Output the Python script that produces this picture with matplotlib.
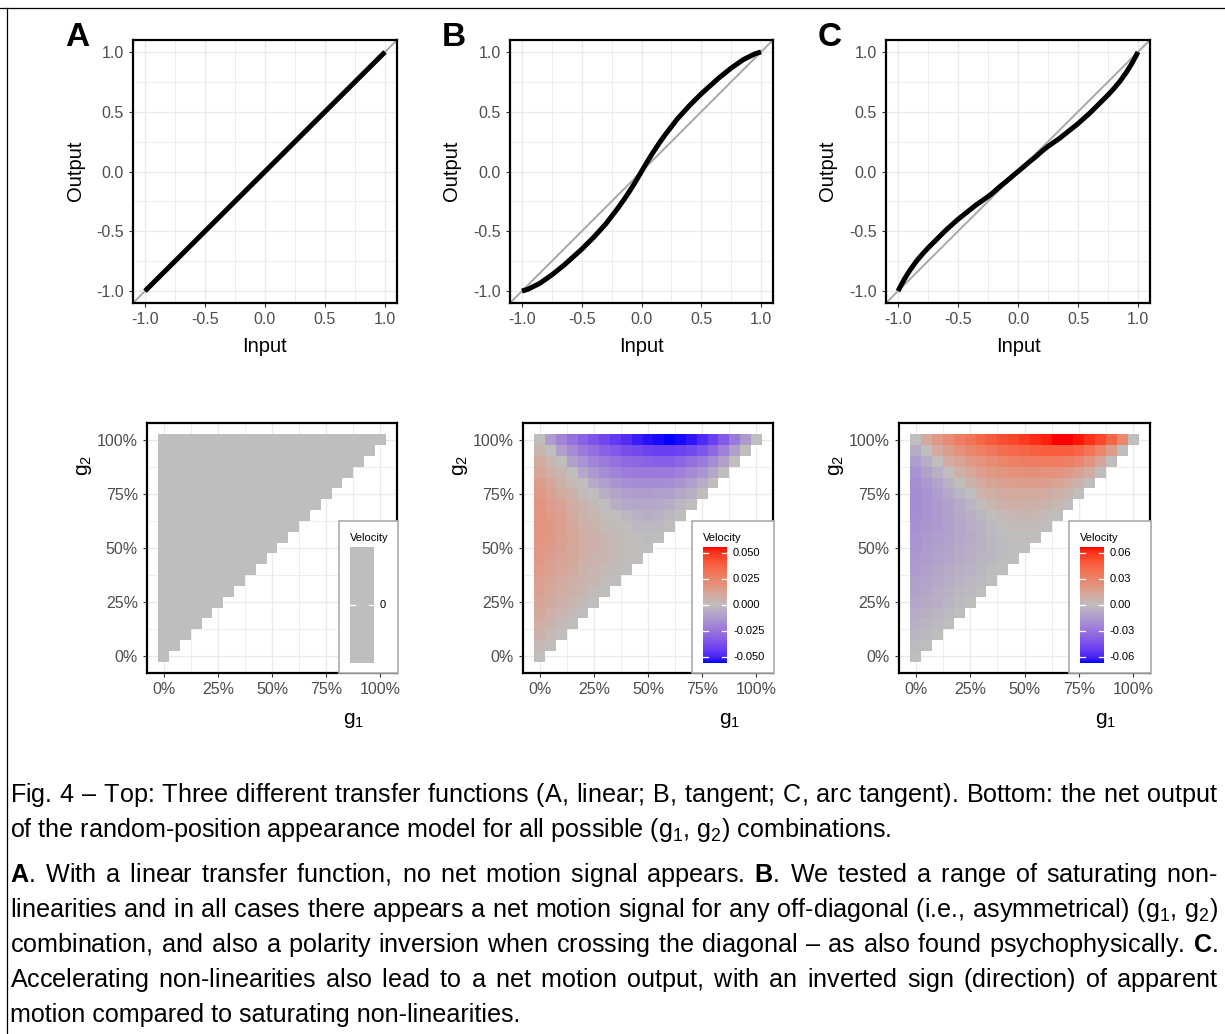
import numpy as np
import matplotlib
matplotlib.use("Agg")
import matplotlib.pyplot as plt
from matplotlib import font_manager
from matplotlib.colors import ListedColormap
from matplotlib.lines import Line2D
from matplotlib.patches import Rectangle

# ---- data ----
transfer_input = [-1.0, -0.95, -0.9, -0.85, -0.8, -0.75, -0.7, -0.65, -0.6, -0.55, -0.5,
                  -0.45, -0.4, -0.35, -0.3, -0.25, -0.2, -0.15, -0.1, -0.05, 0.0,
                  0.05, 0.1, 0.15, 0.2, 0.25, 0.3, 0.35, 0.4, 0.45, 0.5,
                  0.55, 0.6, 0.65, 0.7, 0.75, 0.8, 0.85, 0.9, 0.95, 1.0]
output_linear = [-1.0, -0.95, -0.9, -0.85, -0.8, -0.75, -0.7, -0.65, -0.6, -0.55, -0.5,
                 -0.45, -0.4, -0.35, -0.3, -0.25, -0.2, -0.15, -0.1, -0.05, 0.0,
                 0.05, 0.1, 0.15, 0.2, 0.25, 0.3, 0.35, 0.4, 0.45, 0.5,
                 0.55, 0.6, 0.65, 0.7, 0.75, 0.8, 0.85, 0.9, 0.95, 1.0]
output_tangent = [-1.0, -0.985, -0.96, -0.935, -0.90, -0.865, -0.825, -0.785, -0.74, -0.695, -0.65,
                  -0.60, -0.55, -0.495, -0.44, -0.375, -0.31, -0.24, -0.165, -0.085, 0.0,
                  0.085, 0.165, 0.24, 0.31, 0.375, 0.44, 0.495, 0.55, 0.60, 0.65,
                  0.695, 0.74, 0.785, 0.825, 0.865, 0.90, 0.935, 0.96, 0.985, 1.0]
output_arctan = [-1.0, -0.905, -0.825, -0.755, -0.695, -0.64, -0.59, -0.54, -0.49, -0.445, -0.40,
                 -0.36, -0.32, -0.28, -0.245, -0.21, -0.17, -0.125, -0.085, -0.042, 0.0,
                 0.042, 0.085, 0.125, 0.17, 0.21, 0.245, 0.28, 0.32, 0.36, 0.40,
                 0.445, 0.49, 0.54, 0.59, 0.64, 0.695, 0.755, 0.825, 0.905, 1.0]

g_levels = [0.00, 0.05, 0.10, 0.15, 0.20, 0.25, 0.30, 0.35, 0.40, 0.45, 0.50,
            0.55, 0.60, 0.65, 0.70, 0.75, 0.80, 0.85, 0.90, 0.95, 1.00]

# row j -> g2 = g_levels[j], entries for g1 = g_levels[0..j]
velocity_linear = [[0.0] * (j + 1) for j in range(len(g_levels))]

velocity_tangent = [
    [0.0],
    [0.003, 0.0],
    [0.006, 0.003, 0.0],
    [0.008, 0.005, 0.002, 0.0],
    [0.010, 0.007, 0.004, 0.002, 0.0],
    [0.012, 0.009, 0.006, 0.004, 0.002, 0.0],
    [0.013, 0.010, 0.008, 0.006, 0.004, 0.001, 0.0],
    [0.014, 0.012, 0.009, 0.007, 0.005, 0.004, 0.001, 0.0],
    [0.016, 0.013, 0.011, 0.009, 0.006, 0.004, 0.003, 0.001, 0.0],
    [0.017, 0.014, 0.012, 0.010, 0.007, 0.005, 0.004, 0.002, 0.001, 0.0],
    [0.018, 0.016, 0.013, 0.010, 0.008, 0.006, 0.004, 0.002, 0.001, 0.0, 0.0],
    [0.019, 0.017, 0.013, 0.011, 0.008, 0.006, 0.004, 0.002, 0.001, 0.0, -0.001, 0.0],
    [0.019, 0.017, 0.014, 0.010, 0.007, 0.005, 0.003, 0.001, 0.0, -0.002, -0.002, -0.002, 0.0],
    [0.019, 0.016, 0.013, 0.009, 0.006, 0.004, 0.001, 0.0, -0.003, -0.004, -0.005, -0.004, -0.002, 0.0],
    [0.019, 0.015, 0.012, 0.008, 0.005, 0.002, 0.0, -0.005, -0.007, -0.008, -0.008, -0.007, -0.006,
     -0.003, 0.0],
    [0.017, 0.013, 0.009, 0.006, 0.002, 0.0, -0.006, -0.009, -0.011, -0.012, -0.012, -0.011, -0.010,
     -0.008, -0.005, 0.0],
    [0.015, 0.011, 0.006, 0.003, 0.0, -0.007, -0.011, -0.014, -0.016, -0.017, -0.017, -0.017, -0.016,
     -0.014, -0.011, -0.006, 0.0],
    [0.012, 0.007, 0.004, 0.0, -0.008, -0.013, -0.017, -0.020, -0.022, -0.023, -0.023, -0.023, -0.023,
     -0.021, -0.018, -0.014, -0.008, 0.0],
    [0.009, 0.004, 0.0, -0.010, -0.015, -0.020, -0.023, -0.026, -0.029, -0.030, -0.031, -0.032, -0.032,
     -0.030, -0.027, -0.023, -0.017, -0.010, 0.0],
    [0.004, 0.0, -0.011, -0.018, -0.023, -0.027, -0.031, -0.034, -0.037, -0.039, -0.041, -0.042, -0.042,
     -0.041, -0.039, -0.035, -0.029, -0.021, -0.011, 0.0],
    [0.0, -0.012, -0.020, -0.026, -0.031, -0.036, -0.040, -0.044, -0.047, -0.051, -0.053, -0.054, -0.055,
     -0.054, -0.052, -0.048, -0.042, -0.034, -0.024, -0.013, 0.0],
]

velocity_arctan = [
    [0.0],
    [-0.002, 0.0],
    [-0.004, -0.002, 0.0],
    [-0.006, -0.004, -0.002, 0.0],
    [-0.008, -0.006, -0.004, -0.002, 0.0],
    [-0.010, -0.008, -0.006, -0.004, -0.002, 0.0],
    [-0.012, -0.010, -0.007, -0.005, -0.003, -0.002, 0.0],
    [-0.013, -0.011, -0.009, -0.007, -0.005, -0.003, -0.002, 0.0],
    [-0.015, -0.013, -0.010, -0.008, -0.006, -0.005, -0.003, -0.001, 0.0],
    [-0.016, -0.014, -0.012, -0.010, -0.008, -0.006, -0.004, -0.003, -0.001, 0.0],
    [-0.017, -0.015, -0.013, -0.011, -0.009, -0.007, -0.005, -0.003, -0.002, 0.0, 0.0],
    [-0.018, -0.016, -0.014, -0.012, -0.010, -0.008, -0.005, -0.003, -0.001, 0.0, 0.001, 0.0],
    [-0.019, -0.017, -0.015, -0.013, -0.010, -0.007, -0.005, -0.002, 0.0, 0.002, 0.002, 0.002, 0.0],
    [-0.020, -0.018, -0.015, -0.013, -0.009, -0.006, -0.003, 0.0, 0.003, 0.004, 0.005, 0.004, 0.002, 0.0],
    [-0.021, -0.018, -0.015, -0.012, -0.008, -0.004, 0.0, 0.005, 0.007, 0.008, 0.008, 0.007, 0.006,
     0.004, 0.0],
    [-0.021, -0.018, -0.014, -0.009, -0.004, 0.0, 0.006, 0.009, 0.011, 0.012, 0.012, 0.012, 0.011,
     0.008, 0.005, 0.0],
    [-0.020, -0.016, -0.011, -0.005, 0.0, 0.007, 0.011, 0.014, 0.016, 0.017, 0.018, 0.018, 0.017,
     0.015, 0.011, 0.007, 0.0],
    [-0.018, -0.012, -0.006, 0.0, 0.008, 0.013, 0.017, 0.020, 0.022, 0.024, 0.025, 0.025, 0.024,
     0.023, 0.020, 0.016, 0.010, 0.0],
    [-0.014, -0.007, 0.0, 0.010, 0.015, 0.020, 0.023, 0.027, 0.030, 0.032, 0.034, 0.035, 0.035,
     0.035, 0.033, 0.030, 0.023, 0.014, 0.0],
    [-0.008, 0.0, 0.011, 0.018, 0.024, 0.029, 0.033, 0.037, 0.041, 0.043, 0.045, 0.047, 0.048,
     0.048, 0.048, 0.045, 0.039, 0.030, 0.018, 0.0],
    [0.0, 0.012, 0.020, 0.027, 0.034, 0.039, 0.044, 0.049, 0.053, 0.056, 0.059, 0.062, 0.064,
     0.067, 0.067, 0.065, 0.061, 0.055, 0.045, 0.029, 0.0],
]

panel_letters = ["A", "B", "C"]
line_ticks = [-1.0, -0.5, 0.0, 0.5, 1.0]
line_tick_labels = ["-1.0", "-0.5", "0.0", "0.5", "1.0"]
pct_ticks = [0.0, 0.25, 0.5, 0.75, 1.0]
pct_tick_labels = ["0%", "25%", "50%", "75%", "100%"]
legend_ticks_b = [-0.05, -0.025, 0.0, 0.025, 0.05]
legend_labels_b = ["-0.050", "-0.025", "0.000", "0.025", "0.050"]
legend_ticks_c = [-0.06, -0.03, 0.0, 0.03, 0.06]
legend_labels_c = ["-0.06", "-0.03", "0.00", "0.03", "0.06"]

# caption: "*X" marks a bold letter, lines flagged True are justified
caption_lines = [
    ("Fig. 4 \u2013 Top: Three different transfer functions (A, linear; B, tangent; C, arc tangent). "
     "Bottom: the net output", True),
    ("of the random-position appearance model for all possible (g$_1$, g$_2$) combinations.", False),
    ("*A. With a linear transfer function, no net motion signal appears. *B. We tested a range of "
     "saturating non-", True),
    ("linearities and in all cases there appears a net motion signal for any off-diagonal (i.e., "
     "asymmetrical) (g$_1$, g$_2$)", True),
    ("combination, and also a polarity inversion when crossing the diagonal \u2013 as also found "
     "psychophysically. *C.", True),
    ("Accelerating non-linearities also lead to a net motion output, with an inverted sign (direction) "
     "of apparent", True),
    ("motion compared to saturating non-linearities.", False),
]
caption_baselines = [802, 837, 882, 917, 952, 987, 1022]

# ---- fonts / style ----
installed = {f.name for f in font_manager.fontManager.ttflist}
SANS = "Liberation Sans" if "Liberation Sans" in installed else "DejaVu Sans"
NARROW = "Liberation Sans Narrow" if "Liberation Sans Narrow" in installed else SANS
plt.rcParams["font.family"] = [SANS, "DejaVu Sans"]
plt.rcParams["mathtext.fontset"] = "custom"
plt.rcParams["mathtext.rm"] = NARROW
plt.rcParams["mathtext.it"] = NARROW
plt.rcParams["mathtext.bf"] = NARROW + ":bold"

W, H = 1225, 1034
fig = plt.figure(figsize=(W / 100, H / 100), dpi=100)
fig.patch.set_facecolor("white")

GRID = "#EBEBEB"
TICK_TXT = "#4D4D4D"


def px_axes(l, t, r, b, **kw):
    return fig.add_axes([l / W, 1 - b / H, (r - l) / W, (b - t) / H], **kw)


def fig_text(x, y, s, **kw):
    return fig.text(x / W, 1 - y / H, s, **kw)


# ggplot's gradient2 mixes in CIE Lab
_M = np.array([[0.4124, 0.3576, 0.1805], [0.2126, 0.7152, 0.0722], [0.0193, 0.1192, 0.9505]])
_WHITE = np.array([0.95047, 1.0, 1.08883])


def srgb_to_lab(rgb):
    rgb = np.asarray(rgb, float)
    lin = np.where(rgb <= 0.04045, rgb / 12.92, ((rgb + 0.055) / 1.055) ** 2.4)
    xyz = lin @ _M.T / _WHITE
    d = 6 / 29
    f = np.where(xyz > d ** 3, np.cbrt(xyz), xyz / (3 * d * d) + 4 / 29)
    return np.stack([116 * f[..., 1] - 16, 500 * (f[..., 0] - f[..., 1]), 200 * (f[..., 1] - f[..., 2])], -1)


def lab_to_srgb(lab):
    d = 6 / 29
    fy = (lab[..., 0] + 16) / 116
    f = np.stack([fy + lab[..., 1] / 500, fy, fy - lab[..., 2] / 200], -1)
    xyz = np.where(f > d, f ** 3, 3 * d * d * (f - 4 / 29)) * _WHITE
    lin = np.clip(xyz @ np.linalg.inv(_M).T, 0, 1)
    return np.clip(np.where(lin <= 0.0031308, 12.92 * lin, 1.055 * lin ** (1 / 2.4) - 0.055), 0, 1)


lab_low = srgb_to_lab([0.0, 0.0, 1.0])
lab_mid = srgb_to_lab([190 / 255, 190 / 255, 190 / 255])
lab_high = srgb_to_lab([1.0, 0.0, 0.0])
tt = np.linspace(0, 1, 256)[:, None]
lab_ramp = np.where(tt < 0.5, lab_low + (lab_mid - lab_low) * (tt / 0.5),
                    lab_mid + (lab_high - lab_mid) * ((tt - 0.5) / 0.5))
velocity_cmap = ListedColormap(lab_to_srgb(lab_ramp))

# ---- top row: transfer functions ----
top_boxes = [(133, 40, 397, 303), (510, 40, 773, 303), (886, 40, 1150, 303)]
curves = [output_linear, output_tangent, output_arctan]
for k, (box, out) in enumerate(zip(top_boxes, curves)):
    ax = px_axes(*box)
    ax.set_xlim(-1.1, 1.1)
    ax.set_ylim(-1.1, 1.1)
    ax.set_xticks(line_ticks)
    ax.set_xticklabels(line_tick_labels)
    ax.set_yticks(line_ticks)
    ax.set_yticklabels(line_tick_labels)
    ax.set_xticks([-0.75, -0.25, 0.25, 0.75], minor=True)
    ax.set_yticks([-0.75, -0.25, 0.25, 0.75], minor=True)
    ax.grid(True, which="major", color=GRID, lw=1.0)
    ax.grid(True, which="minor", color=GRID, lw=0.6)
    ax.set_axisbelow(True)
    ax.tick_params(which="major", length=3, width=0.8, color="#333333", labelcolor=TICK_TXT,
                   labelsize=11.5, pad=3.5)
    ax.tick_params(which="minor", length=0)
    for sp in ax.spines.values():
        sp.set_linewidth(1.6)
        sp.set_color("black")
    ax.axline((0, 0), slope=1, color="#A8A8A8", lw=1.4, zorder=2)
    ax.plot(transfer_input, out, color="black", lw=3.6, solid_capstyle="butt",
            solid_joinstyle="round", zorder=3)
    x0, x1 = box[0], box[2]
    fig_text(x0 - 58, 171, "Output", rotation=90, ha="center", va="center", fontsize=14.5)
    fig_text((x0 + x1) / 2, 347, "Input", ha="center", va="center", fontsize=14.5)
    fig_text(x0 - 56, 38, panel_letters[k], ha="center", va="center", fontsize=24,
             fontweight="bold")

# ---- bottom row: velocity maps ----
bottom_boxes = [(147, 423, 397, 673), (523, 423, 773, 673), (899, 423, 1150, 673)]
velocity_sets = [velocity_linear, velocity_tangent, velocity_arctan]
color_limits = [0.055, 0.055, 0.067]
n = len(g_levels)
edges = [g_levels[0] - 0.025] + [g + 0.025 for g in g_levels]
for k, (box, rows) in enumerate(zip(bottom_boxes, velocity_sets)):
    grid = np.full((n, n), np.nan)
    for j, row in enumerate(rows):
        grid[j, :len(row)] = row
    ax = px_axes(*box)
    lim = color_limits[k]
    ax.pcolormesh(edges, edges, np.ma.masked_invalid(grid), cmap=velocity_cmap, vmin=-lim, vmax=lim,
                  shading="flat", antialiased=False, edgecolors="none", zorder=2)
    ax.set_xlim(-0.0775, 1.0775)
    ax.set_ylim(-0.0775, 1.0775)
    ax.set_xticks(pct_ticks)
    ax.set_xticklabels(pct_tick_labels)
    ax.set_yticks(pct_ticks)
    ax.set_yticklabels(pct_tick_labels)
    ax.set_xticks([0.125, 0.375, 0.625, 0.875], minor=True)
    ax.set_yticks([0.125, 0.375, 0.625, 0.875], minor=True)
    ax.grid(True, which="major", color=GRID, lw=1.0, zorder=0)
    ax.grid(True, which="minor", color=GRID, lw=0.6, zorder=0)
    ax.set_axisbelow(True)
    ax.tick_params(which="major", length=3, width=0.8, color="#333333", labelcolor=TICK_TXT,
                   labelsize=11.5, pad=3.5)
    ax.tick_params(which="minor", length=0)
    for sp in ax.spines.values():
        sp.set_linewidth(1.6)
        sp.set_color("black")
    x0, x1 = box[0], box[2]
    fig_text(x0 - 62, 465, "g$_2$", rotation=90, ha="center", va="center", fontsize=15)
    fig_text(x0 + 207, 720, "g$_1$", ha="center", va="center", fontsize=15)

    # legend box over the lower-right corner of the panel
    box_w = 59 if k == 0 else 82
    lx0, ly0, lx1, ly1 = x1 - box_w + 1, 521, x1 + 1, 673
    fig.add_artist(Rectangle((lx0 / W, 1 - ly1 / H), (lx1 - lx0) / W, (ly1 - ly0) / H,
                             transform=fig.transFigure, facecolor="white", edgecolor="#ADADAD",
                             lw=1.2, zorder=3))
    fig_text(lx0 + 11, 538, "Velocity", ha="left", va="center", fontsize=8, zorder=5)
    bx0 = lx0 + 11
    cax = px_axes(bx0, 547, bx0 + 24, 663, zorder=4)
    cax.set_xticks([])
    cax.set_yticks([])
    for sp in cax.spines.values():
        sp.set_visible(False)
    if k == 0:
        cax.set_xlim(0, 1)
        cax.set_ylim(-1, 1)
        cax.add_patch(Rectangle((0, -1), 1, 2, facecolor="#BEBEBE", edgecolor="none"))
        ticks, labels = [0.0], ["0"]
    else:
        span = lim * 1.008
        cax.imshow(np.linspace(-span, span, 256)[:, None], origin="lower", aspect="auto",
                   extent=[0, 1, -span, span], cmap=velocity_cmap, vmin=-lim, vmax=lim)
        cax.set_xlim(0, 1)
        cax.set_ylim(-span, span)
        ticks = legend_ticks_b if k == 1 else legend_ticks_c
        labels = legend_labels_b if k == 1 else legend_labels_c
    for v, lab in zip(ticks, labels):
        cax.plot([0, 0.2], [v, v], color="white", lw=0.9)
        cax.plot([0.8, 1.0], [v, v], color="white", lw=0.9)
        cax.text(1.25, v, lab, transform=cax.get_yaxis_transform(), ha="left", va="center",
                 fontsize=8, color="black", clip_on=False)

# ---- frame lines of the surrounding table ----
fig.add_artist(Line2D([0, 1], [1 - 8 / H, 1 - 8 / H], transform=fig.transFigure, color="black", lw=0.9))
fig.add_artist(Line2D([7 / W, 7 / W], [0, 1 - 8 / H], transform=fig.transFigure, color="black", lw=0.9))

# ---- justified caption: one mathtext string per line, word gaps via \hspace ----
renderer = fig.canvas.get_renderer()


def tex_word(word):
    if word.startswith("*"):
        return r"$\mathbf{%s}$%s" % (word[1], word[2:])
    return word


def build_line(words, gap):
    if gap is None:
        return " ".join(tex_word(w) for w in words)
    return (r"$\hspace{%.4f}$" % gap).join(tex_word(w) for w in words)


def line_width(s, size):
    t = fig.text(0, 0, s, fontsize=size, family=NARROW)
    w = t.get_window_extent(renderer).width
    t.remove()
    return w


# pick the caption size so the short last line matches the reference width
probe = 18
probe_w = line_width(caption_lines[-1][0], probe)
cap_size = probe * 509 / probe_w

left_px, right_px = 10, 1218
for (line, justify), base in zip(caption_lines, caption_baselines):
    words = line.split(" ")
    if justify:
        w0 = line_width(build_line(words, 0.0), cap_size)
        w1 = line_width(build_line(words, 1.0), cap_size)
        gap = (right_px - left_px - w0) / (w1 - w0)
        s = build_line(words, gap)
    else:
        s = build_line(words, None)
    fig_text(left_px, base, s, ha="left", va="baseline", fontsize=cap_size, family=NARROW,
             color="black")

fig.savefig("out.png", dpi=100, facecolor="white")
